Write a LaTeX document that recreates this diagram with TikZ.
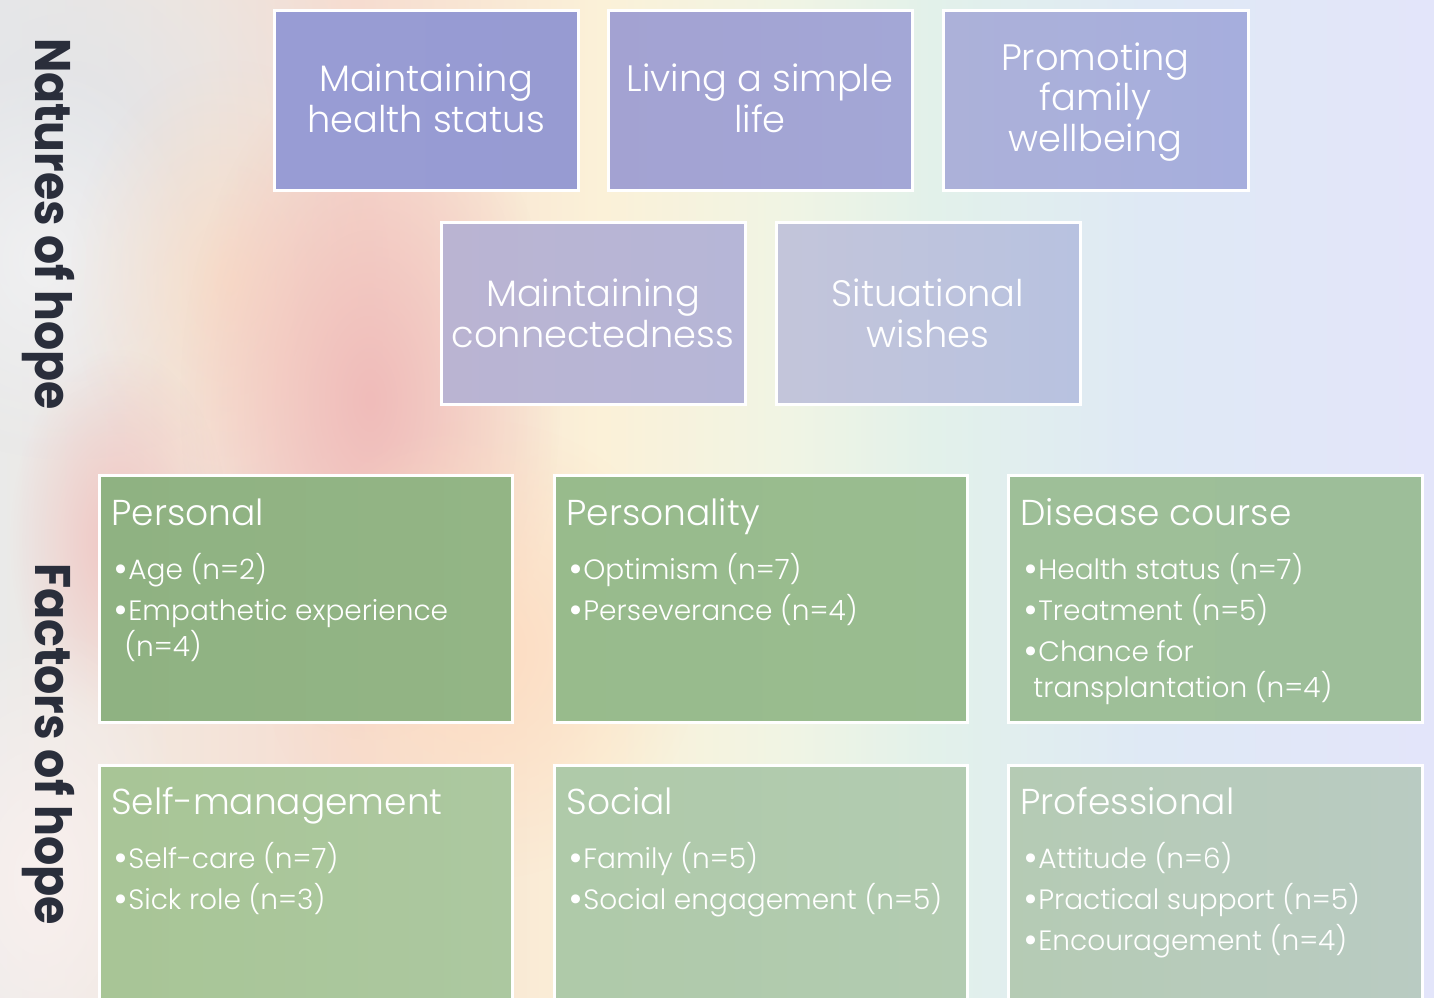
\documentclass[tikz,border=0pt]{standalone}
\usepackage{fontspec}
\usepackage{graphicx}
\usetikzlibrary{fit,fadings}
\IfFontExistsTF{Poppins Light}{\newfontfamily\boxfont{Poppins Light}}{\newfontfamily\boxfont{Poppins}}
\newfontfamily\labelfont{Poppins}

% soft pastel background colours, left to right
\definecolor{bgA}{HTML}{EAEAE9}
\definecolor{bgB}{HTML}{F3E6DC}
\definecolor{bgC}{HTML}{F6DCD0}
\definecolor{bgD}{HTML}{FBF1D8}
\definecolor{bgE}{HTML}{F0F4E4}
\definecolor{bgF}{HTML}{E2F1EA}
\definecolor{bgG}{HTML}{DFE9F5}
\definecolor{bgH}{HTML}{E3E5FA}
\pgfdeclarehorizontalshading{pastelbg}{100bp}{color(0bp)=(bgA); color(25bp)=(bgA); color(31bp)=(bgB); color(37.5bp)=(bgC); color(46bp)=(bgD); color(52.5bp)=(bgE); color(57.5bp)=(bgF); color(65bp)=(bgG); color(75bp)=(bgH); color(100bp)=(bgH)}
\definecolor{blobPink}{HTML}{F0BCBA}
\definecolor{blobPeach}{HTML}{FDDCC2}
\definecolor{blobGrey}{HTML}{E2E4E8}
\definecolor{blobPale}{HTML}{F9F0EE}
\definecolor{blobWhite}{HTML}{F3F3F4}
\tikzfading[name=softblob, inner color=transparent!0, outer color=transparent!100]

\definecolor{labelink}{HTML}{2A2E3B}

% tile colours
\definecolor{tA1}{HTML}{989CD4}\definecolor{tA2}{HTML}{979BD2}
\definecolor{tB1}{HTML}{A3A2D2}\definecolor{tB2}{HTML}{A3A7D6}
\definecolor{tC1}{HTML}{ACB1D9}\definecolor{tC2}{HTML}{A6AEDD}
\definecolor{tD1}{HTML}{BAB4D2}\definecolor{tD2}{HTML}{B6B6D7}
\definecolor{tE1}{HTML}{C3C5DA}\definecolor{tE2}{HTML}{B8C2E0}
\definecolor{gA1}{HTML}{8FB282}\definecolor{gA2}{HTML}{93B585}
\definecolor{gB1}{HTML}{98BB8C}\definecolor{gB2}{HTML}{99BC90}
\definecolor{gC1}{HTML}{9EBF98}\definecolor{gC2}{HTML}{9DBE99}
\definecolor{gD1}{HTML}{A8C596}\definecolor{gD2}{HTML}{ACC8A0}
\definecolor{gE1}{HTML}{AFCAA9}\definecolor{gE2}{HTML}{B2CBB1}
\definecolor{gF1}{HTML}{B5CBB4}\definecolor{gF2}{HTML}{B9CBC2}

\tikzset{
  tile/.style 2 args={draw=white, line width=1.5pt, inner sep=0pt, rectangle, left color=#1, right color=#2},
  toptext/.style={text=white, align=center, inner sep=0pt, font=\boxfont\fontsize{18.4}{20.4}\selectfont},
  headtext/.style={text=white, anchor=base west, inner sep=0pt, font=\boxfont\fontsize{18}{20}\selectfont},
  itemtext/.style={text=white, anchor=base west, inner sep=0pt, font=\boxfont\fontsize{14}{17}\selectfont},
  sidelabel/.style={text=labelink, rotate=-90, inner sep=0pt, font=\labelfont\bfseries\fontsize{25}{28}\selectfont},
  blob/.style={path fading=softblob, fit fading=true},
}
\newcommand{\itm}[1]{\makebox[7.5pt][l]{\raisebox{-1.3pt}{\labelfont\scalebox{1.3}{•}}}#1}

\begin{document}
\begin{tikzpicture}[x=0.5pt,y=-0.5pt]
\useasboundingbox (0,0) rectangle (1434,997);
\clip (0,0) rectangle (1434,997);

% background wash
\shade[shading=pastelbg] (0,0) rectangle (1434,997);
\fill[blobGrey, blob] (70,140) ellipse [x radius=300, y radius=320];
\fill[blobWhite, blob, opacity=0.8] (40,260) ellipse [x radius=160, y radius=200];
\fill[blobPeach, blob, opacity=0.7] (230,280) ellipse [x radius=160, y radius=220];
\fill[blobPink, blob] (370,400) ellipse [x radius=190, y radius=340];
\fill[blobPeach, blob] (480,650) ellipse [x radius=220, y radius=230];
\fill[blobPink, blob, opacity=0.8] (120,540) ellipse [x radius=110, y radius=190];
\fill[blobPale, blob] (40,880) ellipse [x radius=160, y radius=260];

% side headings
\node[sidelabel] (natures) at (48,224) {\resizebox{186pt}{\height}{Natures of hope}};
\node[sidelabel] (factors) at (48,744) {\resizebox{181pt}{\height}{Factors of hope}};

% natures of hope
\node[tile={tA1}{tA2}, fit={(274,10) (578,190)}] (health) {};
\node[tile={tB1}{tB2}, fit={(608,10) (912,190)}] (simple) {};
\node[tile={tC1}{tC2}, fit={(943,10) (1248,190)}] (family) {};
\node[tile={tD1}{tD2}, fit={(441,222) (745,404)}] (connect) {};
\node[tile={tE1}{tE2}, fit={(776,222) (1080,404)}] (wishes) {};

\node[toptext] (healthT) at ([yshift=1pt]health.center) {Maintaining\\health status};
\node[toptext] (simpleT) at ([yshift=1pt]simple.center) {Living a simple\\life};
\node[toptext] (familyT) at ([yshift=-1pt]family.center) {Promoting\\family\\wellbeing};
\node[toptext] (connectT) at (connect.center) {Maintaining\\connectedness};
\node[toptext] (wishesT) at (wishes.center) {Situational\\wishes};

% factors of hope
\node[tile={gA1}{gA2}, fit={(99,475) (512,722)}] (personal) {};
\node[tile={gB1}{gB2}, fit={(554,475) (967,722)}] (personality) {};
\node[tile={gC1}{gC2}, fit={(1008,475) (1422,722)}] (disease) {};
\node[tile={gD1}{gD2}, fit={(99,765) (512,1010)}] (selfman) {};
\node[tile={gE1}{gE2}, fit={(554,765) (967,1010)}] (social) {};
\node[tile={gF1}{gF2}, fit={(1008,765) (1422,1010)}] (profess) {};

\node[headtext] (personalH) at (111,525) {Personal};
\node[itemtext] (personal1) at (113,579) {\itm{Age (n=2)}};
\node[itemtext] (personal2) at (113,620) {\itm{Empathetic experience}};
\node[itemtext] (personal2b) at (124,656) {(n=4)};

\node[headtext] (personalityH) at (566,525) {Personality};
\node[itemtext] (personality1) at (568,579) {\itm{Optimism (n=7)}};
\node[itemtext] (personality2) at (568,620) {\itm{Perseverance (n=4)}};

\node[headtext] (diseaseH) at (1020,525) {Disease course};
\node[itemtext] (disease1) at (1023,579) {\itm{Health status (n=7)}};
\node[itemtext] (disease2) at (1023,620) {\itm{Treatment (n=5)}};
\node[itemtext] (disease3) at (1023,661) {\itm{Chance for}};
\node[itemtext] (disease3b) at (1033,697) {transplantation (n=4)};

\node[headtext] (selfmanH) at (111,814) {Self-management};
\node[itemtext] (selfman1) at (113,868) {\itm{Self-care (n=7)}};
\node[itemtext] (selfman2) at (113,909) {\itm{Sick role (n=3)}};

\node[headtext] (socialH) at (566,814) {Social};
\node[itemtext] (social1) at (568,868) {\itm{Family (n=5)}};
\node[itemtext] (social2) at (568,909) {\itm{Social engagement (n=5)}};

\node[headtext] (professH) at (1020,814) {Professional};
\node[itemtext] (profess1) at (1023,868) {\itm{Attitude (n=6)}};
\node[itemtext] (profess2) at (1023,909) {\itm{Practical support (n=5)}};
\node[itemtext] (profess3) at (1023,950) {\itm{Encouragement (n=4)}};
\end{tikzpicture}
\end{document}
